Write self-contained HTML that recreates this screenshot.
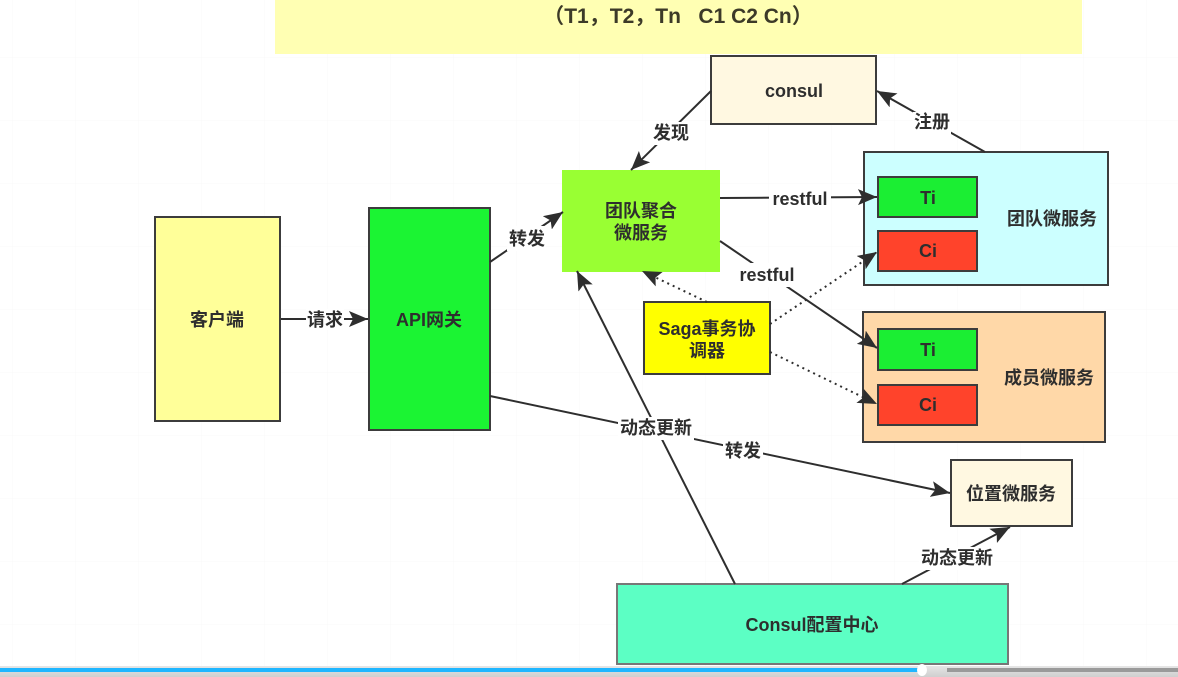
<!DOCTYPE html>
<html><head><meta charset="utf-8"><style>
html,body{margin:0;padding:0;background:#fff;width:1178px;height:677px;overflow:hidden}
svg{display:block;filter:blur(.35px)}
text{font-family:"Liberation Sans","Noto Sans CJK SC",sans-serif;font-weight:700;fill:#2e2e2e;text-anchor:middle;font-size:18px}
</style></head><body>
<svg width="1178" height="677" viewBox="0 0 1178 677" xmlns="http://www.w3.org/2000/svg">
<defs>
<pattern id="g" width="63" height="63" patternUnits="userSpaceOnUse" x="12" y="-6"><path d="M0 0H63M0 0V63" stroke="#f8f8f8" stroke-width="1" fill="none"/></pattern>
<marker id="a" markerUnits="userSpaceOnUse" markerWidth="20" markerHeight="18" refX="19" refY="8" orient="auto"><path d="M0 0L19 8L0 16L4 8Z" fill="#2e2e2e"/></marker>
<linearGradient id="bar" x1="0" y1="0" x2="0" y2="1"><stop offset="0" stop-color="#e6e6e6"/><stop offset="1" stop-color="#cfcfcf"/></linearGradient>
</defs>
<rect width="1178" height="677" fill="#fff"/>
<rect width="1178" height="666" fill="url(#g)"/>
<rect x="275" y="0" width="807" height="54" fill="#ffffb3"/>
<text x="678" y="23" style="font-size:21px;fill:#3c3a28">（T1，T2，Tn&#160;&#160;&#160;C1 C2 Cn）</text>

<g stroke="#3c3c3c" stroke-width="2">
<rect x="155" y="217" width="125" height="204" fill="#ffff99"/>
<rect x="369" y="208" width="121" height="222" fill="#1bf433"/>
<rect x="711" y="56" width="165" height="68" fill="#fff8e1"/>
<rect x="864" y="152" width="244" height="133" fill="#ccffff"/>
<rect x="878" y="177" width="99" height="40" fill="#1bee33"/>
<rect x="878" y="231" width="99" height="40" fill="#ff432b"/>
<rect x="863" y="312" width="242" height="130" fill="#ffd8a8"/>
<rect x="878" y="329" width="99" height="41" fill="#1bee33"/>
<rect x="878" y="385" width="99" height="40" fill="#ff432b"/>
<rect x="644" y="302" width="126" height="72" fill="#ffff00"/>
<rect x="951" y="460" width="121" height="66" fill="#fff8e1"/>
<rect x="617" y="584" width="391" height="80" fill="#5cffc4" stroke="#777"/>
</g>
<rect x="562" y="170" width="158" height="102" fill="#99ff33"/>

<g fill="none" stroke="#2e2e2e" stroke-width="2">
<path d="M281 319H368" marker-end="url(#a)"/>
<path d="M490 262L563 212" marker-end="url(#a)"/>
<path d="M711 91L631 170" marker-end="url(#a)"/>
<path d="M985 152L877 91" marker-end="url(#a)"/>
<path d="M720 198L877 197" marker-end="url(#a)"/>
<path d="M720 241L877 348" marker-end="url(#a)"/>
<path d="M490 396L950 493" marker-end="url(#a)"/>
<path d="M735 584L577 271" marker-end="url(#a)"/>
<path d="M902 584L1010 527" marker-end="url(#a)"/>
<g stroke-dasharray="2 4">
<path d="M707 302L642 271" marker-end="url(#a)"/>
<path d="M770 324L877 252" marker-end="url(#a)"/>
<path d="M770 352L877 404" marker-end="url(#a)"/>
</g>
</g>

<g fill="#fff">
<rect x="306" y="309" width="38" height="21"/>
<rect x="507" y="226" width="39" height="25"/>
<rect x="652" y="122" width="38" height="23"/>
<rect x="913" y="112" width="38" height="22"/>
<rect x="769" y="187" width="62" height="22"/>
<rect x="738" y="263" width="59" height="24"/>
<rect x="618" y="417" width="76" height="23"/>
<rect x="723" y="440" width="40" height="22"/>
<rect x="919" y="547" width="76" height="23"/>
</g>

<text x="217" y="326">客户端</text>
<text x="429" y="326">API网关</text>
<text x="794" y="97">consul</text>
<text x="641" y="217">团队聚合</text>
<text x="641" y="239">微服务</text>
<text x="928" y="204">Ti</text>
<text x="928" y="257">Ci</text>
<text x="1052" y="225">团队微服务</text>
<text x="928" y="356">Ti</text>
<text x="928" y="411">Ci</text>
<text x="1049" y="384">成员微服务</text>
<text x="707" y="335">Saga事务协</text>
<text x="707" y="357">调器</text>
<text x="1011" y="500">位置微服务</text>
<text x="812" y="631">Consul配置中心</text>

<text x="325" y="326">请求</text>
<text x="527" y="245">转发</text>
<text x="671" y="139">发现</text>
<text x="932" y="128">注册</text>
<text x="800" y="205">restful</text>
<text x="767" y="281">restful</text>
<text x="656" y="434">动态更新</text>
<text x="743" y="457">转发</text>
<text x="957" y="564">动态更新</text>

<rect x="0" y="666" width="1178" height="11" fill="url(#bar)"/>
<rect x="0" y="668" width="920" height="4" fill="#1fb6ff"/>
<rect x="947" y="668" width="231" height="4" fill="#9a9a9a"/>
<ellipse cx="922" cy="670" rx="5" ry="6" fill="#fff"/>
</svg>
</body></html>
